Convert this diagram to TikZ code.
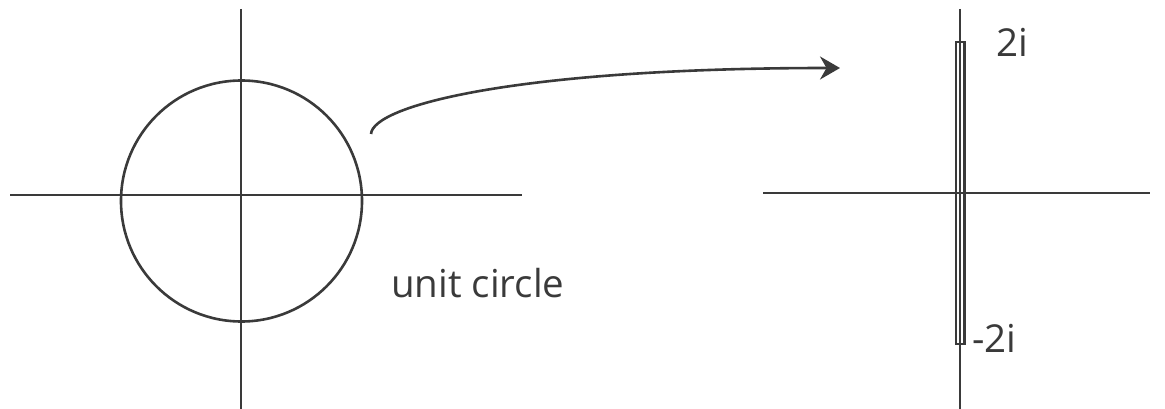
\documentclass[tikz,border=0pt]{standalone}
\usepackage{fontspec}
\setmainfont{Open Sans}
\usetikzlibrary{arrows.meta}
\definecolor{ink}{HTML}{3A3A3A}
\tikzset{
  axis/.style={draw=ink, line width=2.6pt},
  lbl/.style={text=ink, font=\fontsize{38.5}{40}\selectfont, inner sep=0pt, anchor=base west},
  maparrow/.style={draw=ink, line width=2.6pt, -{Stealth[length=20pt,width=23pt]}}
}
\begin{document}
\begin{tikzpicture}[x=1pt,y=-1pt]
\useasboundingbox (0,0) rectangle (1165,409);
% left plane
\coordinate (lv1) at (241,9);
\coordinate (lv2) at (241,409);
\coordinate (lh1) at (10,195);
\coordinate (lh2) at (522,195);
\draw[axis] (lv1) -- (lv2);
\draw[axis] (lh1) -- (lh2);
\coordinate (c0) at (241.5,201);
\draw[axis] (c0) circle[radius=120.5];
\node[lbl] (uc) at (391,297) {unit circle};
% arrow
\coordinate (a1) at (371,134);
\coordinate (a2) at (840,68);
\draw[maparrow] (a1) .. controls (373,105) and (520,68) .. (a2);
% right plane
\coordinate (rv1) at (960,9);
\coordinate (rv2) at (960,409);
\coordinate (rh1) at (763,193);
\coordinate (rh2) at (1150,193);
\draw[axis] (rv1) -- (rv2);
\draw[axis] (rh1) -- (rh2);
\draw[axis, line width=2.3pt] (956,42) rectangle (964.5,344);
\node[lbl] (p2) at (996,57) {2i};
\node[lbl] (m2) at (972,352) {-2i};
\end{tikzpicture}
\end{document}
